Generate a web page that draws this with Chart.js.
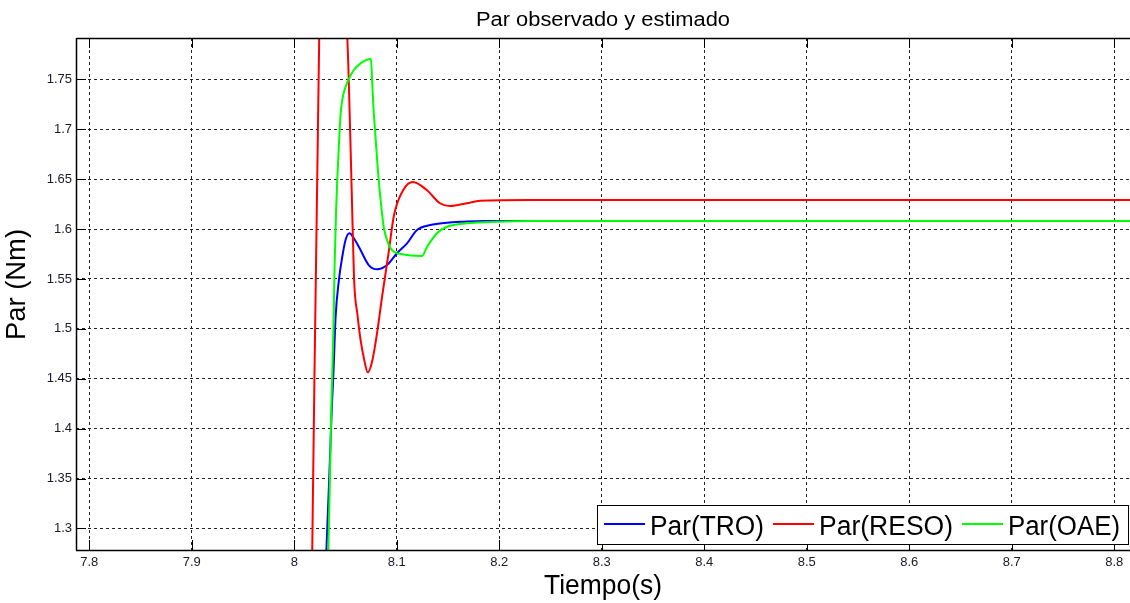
<!DOCTYPE html>
<html>
<head>
<meta charset="utf-8">
<script src="https://cdn.jsdelivr.net/npm/chart.js@4.4.0/dist/chart.umd.min.js"></script>
<style>
html,body{margin:0;padding:0;background:#ffffff;}
canvas{display:block;}
</style>
</head>
<body>
<canvas id="c" width="1130" height="603"></canvas>
<script>
// ---------- data ----------
const chartTitle = "Par observado y estimado";
const xTitle = "Tiempo(s)";
const yTitle = "Par (Nm)";
const seriesLabels = ["Par(TRO)", "Par(RESO)", "Par(OAE)"];
const xTicks = [7.8, 7.9, 8.0, 8.1, 8.2, 8.3, 8.4, 8.5, 8.6, 8.7, 8.8];
const yTicks = [1.3, 1.35, 1.4, 1.45, 1.5, 1.55, 1.6, 1.65, 1.7, 1.75];

const tTRO = [7.78, 8.0282, 8.0313, 8.0342, 8.0367, 8.0381, 8.0403, 8.0435, 8.0468, 8.0500, 8.0539, 8.0581, 8.0646, 8.0726, 8.0808, 8.0905, 8.1002, 8.1100, 8.1197, 8.1327, 8.1490, 8.1652, 8.1847, 8.2000, 8.83];
const vTRO = [1.20, 1.20, 1.278, 1.3535, 1.4236, 1.4537, 1.5121, 1.5489, 1.5722, 1.5890, 1.5957, 1.5907, 1.5790, 1.5639, 1.5596, 1.5639, 1.5757, 1.5857, 1.5990, 1.6040, 1.6063, 1.6073, 1.6080, 1.6080, 1.6080];

const tRESO = [7.78, 8.0165, 8.0175, 8.0243, 8.0270, 8.0340, 8.0410, 8.0470, 8.0517, 8.0535, 8.0552, 8.0567, 8.0585, 8.0615, 8.0645, 8.0680, 8.0717, 8.0758, 8.0807, 8.0856, 8.0919, 8.0973, 8.1063, 8.1158, 8.1292, 8.1422, 8.1519, 8.1682, 8.1812, 8.2300, 8.83];
const vRESO = [1.20, 1.20, 1.2784, 1.7914, 1.88, 1.93, 1.90, 1.83, 1.7914, 1.735, 1.670, 1.610, 1.546, 1.515, 1.490, 1.470, 1.4564, 1.4667, 1.4955, 1.5319, 1.5755, 1.6140, 1.6391, 1.6471, 1.6391, 1.6258, 1.6230, 1.6258, 1.6284, 1.6291, 1.6291];

const tOAE = [7.78, 8.0305, 8.0332, 8.0348, 8.0361, 8.0381, 8.0393, 8.0408, 8.0419, 8.0435, 8.0451, 8.0468, 8.0490, 8.0532, 8.0581, 8.0646, 8.0748, 8.0757, 8.0769, 8.0791, 8.0814, 8.0840, 8.0872, 8.0905, 8.0937, 8.0985, 8.1034, 8.1246, 8.1295, 8.1392, 8.1490, 8.1685, 8.1978, 8.2300, 8.83];
const vOAE = [1.20, 1.20, 1.2784, 1.3535, 1.4206, 1.4958, 1.5622, 1.6190, 1.6491, 1.6842, 1.7142, 1.7293, 1.7393, 1.7503, 1.7593, 1.7660, 1.7703, 1.7543, 1.7276, 1.6942, 1.6608, 1.6311, 1.6023, 1.5890, 1.5810, 1.5765, 1.5750, 1.5730, 1.5820, 1.5957, 1.6023, 1.6057, 1.6073, 1.6080, 1.6080];

// axis ranges
const xMin = 7.78702, xMax = 8.81532;
const yMin = 1.2784, yMax = 1.7914;

// ---------- styling ----------
const FONT = '"Liberation Sans", Arial, Helvetica, sans-serif';
const colors = ["#0000ff", "#ff0000", "#00ff00"];

function pts(t, v) { return t.map((x, i) => ({ x: x, y: v[i] })); }
function fmt(v) { return String(+Number(v).toFixed(2)); }

function drawText(ctx, text, x, y, size, targetW, align, rot) {
  ctx.save();
  ctx.font = size + 'px ' + FONT;
  const w = ctx.measureText(text).width;
  const s = targetW ? targetW / w : 1;
  ctx.translate(x, y);
  if (rot) ctx.rotate(rot);
  ctx.scale(s, 1);
  ctx.textAlign = align || 'center';
  ctx.textBaseline = 'alphabetic';
  ctx.fillStyle = '#000';
  ctx.fillText(text, 0, 0);
  ctx.restore();
}

const framePlugin = {
  id: 'frame',
  afterDatasetsDraw(chart) {
    const ctx = chart.ctx, a = chart.chartArea;
    const xs = chart.scales.x, ys = chart.scales.y;
    ctx.save();
    ctx.strokeStyle = '#000';
    ctx.lineWidth = 1.5;
    ctx.beginPath();
    ctx.moveTo(a.left + 0.5, a.top + 0.5); ctx.lineTo(a.right + 2, a.top + 0.5);
    ctx.moveTo(a.left + 0.5, a.top); ctx.lineTo(a.left + 0.5, a.bottom);
    ctx.moveTo(a.left, a.bottom + 0.5); ctx.lineTo(a.right + 2, a.bottom + 0.5);
    ctx.stroke();
    ctx.lineWidth = 1;
    ctx.beginPath();
    xTicks.forEach(t => {
      const px = Math.round(xs.getPixelForValue(t)) + 0.5;
      ctx.moveTo(px, a.top); ctx.lineTo(px, a.top + 10);
      ctx.moveTo(px, a.bottom); ctx.lineTo(px, a.bottom - 10);
    });
    yTicks.forEach(v => {
      const py = Math.round(ys.getPixelForValue(v)) + 0.5;
      ctx.moveTo(a.left, py); ctx.lineTo(a.left + 10, py);
    });
    ctx.stroke();
    ctx.restore();
  },
  afterDraw(chart) {
    const ctx = chart.ctx, a = chart.chartArea;
    // titles
    drawText(ctx, chartTitle, (a.left + a.right) / 2, 26, 20, 254, 'center');
    drawText(ctx, xTitle, (a.left + a.right) / 2, 594, 28, 118, 'center');
    drawText(ctx, yTitle, 25, 284.5, 28, 111, 'center', -Math.PI / 2);
    // legend
    const bx = 597, by = 505, bw = 532, bh = 40;
    ctx.save();
    ctx.fillStyle = '#fff';
    ctx.fillRect(bx, by, bw, bh);
    ctx.strokeStyle = '#000';
    ctx.lineWidth = 1;
    ctx.strokeRect(bx + 0.5, by + 0.5, bw - 1, bh - 1);
    ctx.restore();
    const ds = chart.data.datasets;
    const textW = [114, 134, 112];
    let x = bx + 7;
    const ly = 524;
    ds.forEach((d, i) => {
      ctx.save();
      ctx.strokeStyle = d.borderColor;
      ctx.lineWidth = 2;
      ctx.beginPath();
      ctx.moveTo(x, ly); ctx.lineTo(x + 41, ly);
      ctx.stroke();
      ctx.restore();
      drawText(ctx, d.label, x + 46, 535, 27, textW[i], 'left');
      x += 46 + textW[i] + 9;
    });
  }
};

const cfg = {
  type: 'line',
  data: {
    datasets: [
      { label: seriesLabels[0], data: pts(tTRO, vTRO), borderColor: colors[0], order: 2 },
      { label: seriesLabels[1], data: pts(tRESO, vRESO), borderColor: colors[1], order: 1 },
      { label: seriesLabels[2], data: pts(tOAE, vOAE), borderColor: colors[2], order: 0 }
    ].map(d => Object.assign(d, { borderWidth: 2, pointRadius: 0, fill: false, cubicInterpolationMode: 'monotone' }))
  },
  options: {
    responsive: false,
    animation: false,
    events: [],
    layout: { padding: { top: 38, left: 0, right: 0, bottom: 0 } },
    plugins: { legend: { display: false }, title: { display: false }, tooltip: { enabled: false } },
    scales: {
      x: {
        type: 'linear', min: xMin, max: xMax,
        afterBuildTicks: s => { s.ticks = xTicks.map(v => ({ value: v })); },
        afterFit: s => { s.height = 53; },
        ticks: { padding: 5, autoSkip: false, maxRotation: 0, color: '#1a1a2a', font: { size: 13, family: FONT }, callback: v => fmt(v) },
        grid: { color: '#222', lineWidth: 1, drawTicks: false },
        border: { display: false, dash: [3, 3] }
      },
      y: {
        type: 'linear', min: yMin, max: yMax,
        afterBuildTicks: s => { s.ticks = yTicks.map(v => ({ value: v })); },
        afterFit: s => { s.width = 76; },
        ticks: { padding: 4, autoSkip: false, color: '#1a1a2a', font: { size: 13, family: FONT }, callback: v => fmt(v) },
        grid: { color: '#222', lineWidth: 1, drawTicks: false },
        border: { display: false, dash: [3, 3] }
      }
    }
  },
  plugins: [framePlugin]
};

new Chart(document.getElementById('c'), cfg);
</script>
</body>
</html>
